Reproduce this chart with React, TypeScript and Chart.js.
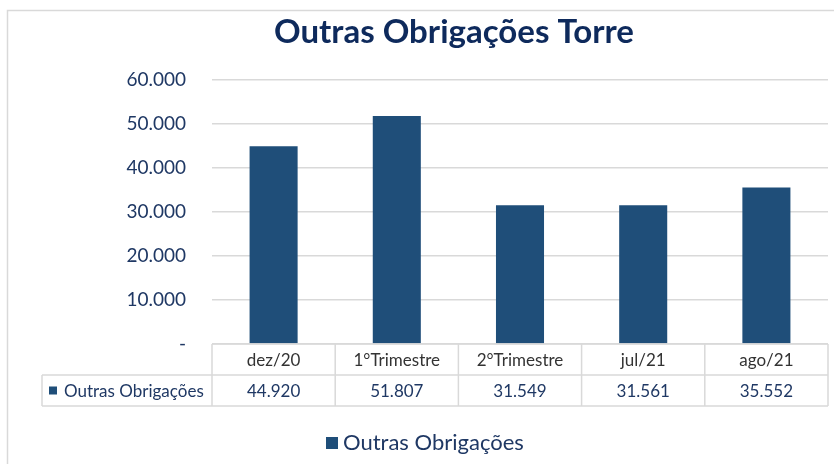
import React, { useEffect, useRef } from "react";
import { Chart, registerables } from "chart.js";

Chart.register(...registerables);

const TITLE = "Outras Obrigações Torre";
const SERIES_NAME = "Outras Obrigações";
const categories = ["dez/20", "1°Trimestre", "2°Trimestre", "jul/21", "ago/21"];
const values = [44920, 51807, 31549, 31561, 35552];
const yTicks = [0, 10000, 20000, 30000, 40000, 50000, 60000];

const BAR_COLOR = "#1F4E79";
const GRID = "#D9D9D9";
const FONT = "Lato, 'Open Sans', sans-serif";

const fmt = (v: number) =>
  v === 0 ? "-" : v.toLocaleString("de-DE", { maximumFractionDigits: 0 });

export default function App() {
  const ref = useRef<HTMLCanvasElement | null>(null);

  useEffect(() => {
    if (!ref.current) return;
    const extras = {
      id: "extras",
      beforeDraw(chart: any) {
        const ctx = chart.ctx;
        ctx.save();
        ctx.fillStyle = "#ffffff";
        ctx.fillRect(0, 0, chart.width, chart.height);
        ctx.strokeStyle = GRID;
        ctx.lineWidth = 1.5;
        ctx.strokeRect(7.5, 10.5, chart.width + 20, chart.height + 20);
        ctx.restore();
      },
      afterDraw(chart: any) {
        const ctx = chart.ctx;
        const area = chart.chartArea;
        const xs = chart.scales.x;
        const n = categories.length;
        const colW = (area.right - area.left) / n;
        ctx.save();
        // title
        ctx.fillStyle = "#0E2A5C";
        ctx.font = `bold 33px ${FONT}`;
        ctx.textAlign = "center";
        ctx.textBaseline = "alphabetic";
        ctx.fillText(TITLE, 454, 43);

        // table
        const top = area.bottom;
        const mid = top + 31;
        const bot = top + 62;
        const tLeft = 42;
        ctx.strokeStyle = GRID;
        ctx.lineWidth = 1.5;
        ctx.beginPath();
        ctx.moveTo(area.left, top);
        ctx.lineTo(area.right, top);
        ctx.moveTo(tLeft, mid);
        ctx.lineTo(area.right, mid);
        ctx.moveTo(tLeft, bot);
        ctx.lineTo(area.right, bot);
        ctx.moveTo(tLeft, mid);
        ctx.lineTo(tLeft, bot);
        for (let i = 0; i <= n; i++) {
          const x = area.left + i * colW;
          ctx.moveTo(x, top);
          ctx.lineTo(x, bot);
        }
        ctx.stroke();

        ctx.textAlign = "center";
        ctx.textBaseline = "middle";
        ctx.font = `17px ${FONT}`;
        categories.forEach((c, i) => {
          const cx = xs.getPixelForValue(i);
          ctx.fillStyle = "#333333";
          ctx.fillText(c, cx, (top + mid) / 2 + 1);
          ctx.fillStyle = "#1F3864";
          ctx.fillText(fmt(values[i]), cx, (mid + bot) / 2 + 1);
        });
        // legend key in table
        ctx.fillStyle = BAR_COLOR;
        ctx.fillRect(49, (mid + bot) / 2 - 4, 8, 8);
        ctx.fillStyle = "#1F3864";
        ctx.textAlign = "left";
        ctx.fillText(SERIES_NAME, 64, (mid + bot) / 2 + 1);

        // bottom legend
        ctx.fillStyle = BAR_COLOR;
        ctx.fillRect(326, 437, 12, 12);
        ctx.fillStyle = "#1F3864";
        ctx.font = `22px ${FONT}`;
        ctx.fillText(SERIES_NAME, 343, 443);
        ctx.restore();
      },
    };

    const chart = new Chart(ref.current, {
      type: "bar",
      data: {
        labels: categories,
        datasets: [
          {
            label: SERIES_NAME,
            data: values,
            backgroundColor: BAR_COLOR,
            barPercentage: 0.39,
            categoryPercentage: 1,
          },
        ],
      },
      options: {
        animation: false,
        responsive: false,
        devicePixelRatio: 1,
        layout: { padding: { top: 80, right: 6, bottom: 120, left: 0 } },
        plugins: {
          legend: { display: false },
          title: { display: false },
          tooltip: { enabled: false },
        },
        scales: {
          x: { display: false },
          y: {
            min: 0,
            max: 60000,
            afterBuildTicks: (s: any) => {
              s.ticks = yTicks.map((v) => ({ value: v }));
            },
            afterFit: (s: any) => {
              s.width = 212;
            },
            border: { display: false },
            grid: { color: GRID, lineWidth: 1.5, drawTicks: false },
            ticks: {
              padding: 26,
              color: "#1F3864",
              font: { family: FONT, size: 19 },
              callback: (v: any) => fmt(Number(v)),
            },
          },
        },
      },
      plugins: [extras],
    } as any);
    return () => chart.destroy();
  }, []);

  return (
    <div style={{ position: "fixed", left: 0, top: 0, width: 834, height: 464 }}>
      <canvas ref={ref} width={834} height={464} style={{ width: 834, height: 464, display: "block" }} />
    </div>
  );
}
